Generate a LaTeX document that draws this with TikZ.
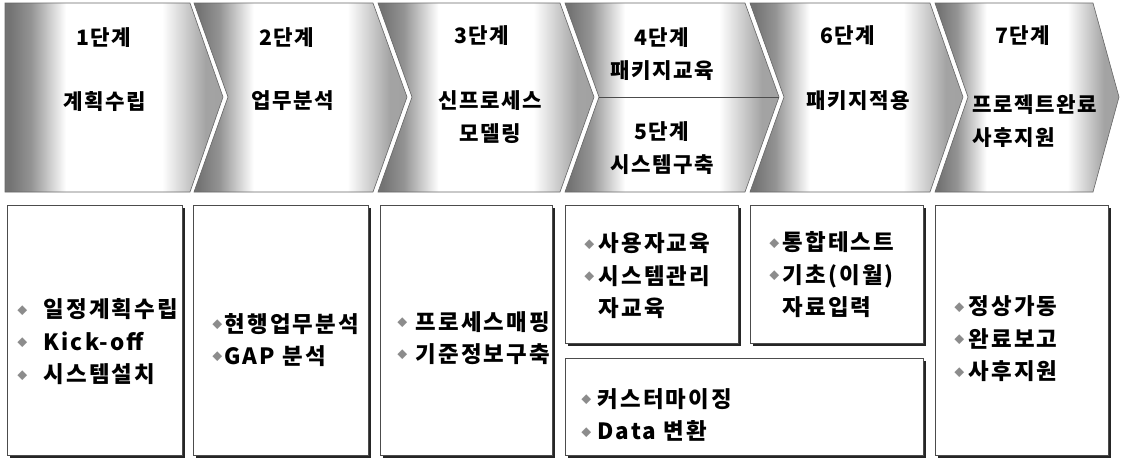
\documentclass[tikz,border=0pt]{standalone}
\usepackage{fontspec}
\setmainfont{Noto Sans CJK KR}
\newfontfamily\stepfont{Noto Sans CJK KR}[LetterSpace=7]
\newfontfamily\taskfont{Noto Sans CJK KR}[LetterSpace=10]
\usetikzlibrary{shadows}

\pgfdeclarehorizontalshading{stepshade}{100bp}{color(0bp)=(black!55); color(26bp)=(black!55); color(31bp)=(black!42); color(39bp)=(white); color(61bp)=(white); color(71bp)=(black!36); color(100bp)=(black!40)}

\tikzset{
	stepshape/.style={draw=black!60, line width=0.3pt, shading=stepshade},
	steptext/.style={font=\fontsize{10.6}{16.25}\selectfont\stepfont\bfseries, align=center, inner sep=0pt},
	taskbox/.style={draw=black!70, line width=0.4pt, fill=white,
		drop shadow={shadow xshift=1.7pt, shadow yshift=-1.7pt, fill=black!85, opacity=1}},
	tasktext/.style={font=\fontsize{11.2}{16.25}\selectfont\taskfont\bfseries, align=left, anchor=west, inner sep=0pt},
}
\newcommand{\bul}[1][7pt]{\makebox[#1][l]{\raisebox{1.9pt}{\textcolor{black!45}{\fontsize{5}{5}\selectfont ◆}}}}

\begin{document}
\begin{tikzpicture}[x=0.5pt, y=-0.5pt]
				\fill [white] (0,0) rectangle (1121,468);
				\useasboundingbox (0,0) rectangle (1121,468);
				\draw [stepshape] (5,3) -- (190,3) -- (223,97) -- (190,192) -- (5,192) -- cycle;
				\draw [stepshape] (194,3) -- (373,3) -- (407,97) -- (373,192) -- (194,192) -- (228,97) -- cycle;
				\draw [stepshape] (378,3) -- (560,3) -- (594,97) -- (560,192) -- (378,192) -- (412,97) -- cycle;
				\draw [stepshape] (565,3) -- (745,3) -- (779,97) -- (745,192) -- (565,192) -- (599,97) -- cycle;
				\draw [stepshape] (750,3) -- (930,3) -- (963,97) -- (930,192) -- (750,192) -- (784,97) -- cycle;
				\draw [stepshape] (935,3) -- (1093,3) -- (1119,97) -- (1093,192) -- (935,192) -- (968,97) -- cycle;
				\coordinate (split_l) at (599,97);
				\coordinate (split_r) at (779,97);
				\draw [black!70, line width=0.5pt] (split_l) -- (split_r);
				\node [steptext] (s1_no) at (104,38) {1단계};
				\node [steptext] (s1_name) at (105,101) {계획수립};
				\node [steptext] (s2_no) at (287,38) {2단계};
				\node [steptext] (s2_name) at (293,101) {업무분석};
				\node [steptext] (s3_no) at (482,36) {3단계};
				\node [steptext] (s3_name) at (490,117) {신프로세스\\모델링};
				\node [steptext] (s4_name) at (662,54) {4단계\\패키지교육};
				\node [steptext] (s5_name) at (662,148) {5단계\\시스템구축};
				\node [steptext] (s6_no) at (848,36) {6단계};
				\node [steptext] (s6_name) at (858,101) {패키지적용};
				\node [steptext] (s7_no) at (1023,36) {7단계};
				\node [steptext, align=left, anchor=west] (s7_name) at (972,121) {프로젝트완료\\사후지원};
				\draw [taskbox] (7,205) rectangle (182,455);
				\draw [taskbox] (193,205) rectangle (368,455);
				\draw [taskbox] (380,205) rectangle (552,455);
				\draw [taskbox] (565,205) rectangle (738,343);
				\draw [taskbox] (565,358) rectangle (923,455);
				\draw [taskbox] (750,205) rectangle (923,343);
				\draw [taskbox] (935,205) rectangle (1108,455);
				\node [tasktext] (t1) at (17,342) {\bul[13pt]일정계획수립\\\bul[13pt]Kick-off\\\bul[13pt]시스템설치};
				\node [tasktext] (t2) at (212,340) {\bul[6pt]현행업무분석\\\bul[6pt]GAP 분석};
				\node [tasktext] (t3) at (397,338) {\bul[9pt]프로세스매핑\\\bul[9pt]기준정보구축};
				\node [tasktext] (t4) at (584,276) {\bul 사용자교육\\\bul 시스템관리\\\phantom{\bul}자교육};
				\node [tasktext] (t5) at (581,415) {\bul[8pt]커스터마이징\\\bul[8pt]Data 변환};
				\node [tasktext] (t6) at (769,275) {\bul[6.5pt]통합테스트\\\bul[6.5pt]기초(이월)\\\phantom{\bul[6.5pt]}자료입력};
				\node [tasktext] (t7) at (954,339) {\bul 정상가동\\\bul 완료보고\\\bul 사후지원};
			\end{tikzpicture}
\end{document}
